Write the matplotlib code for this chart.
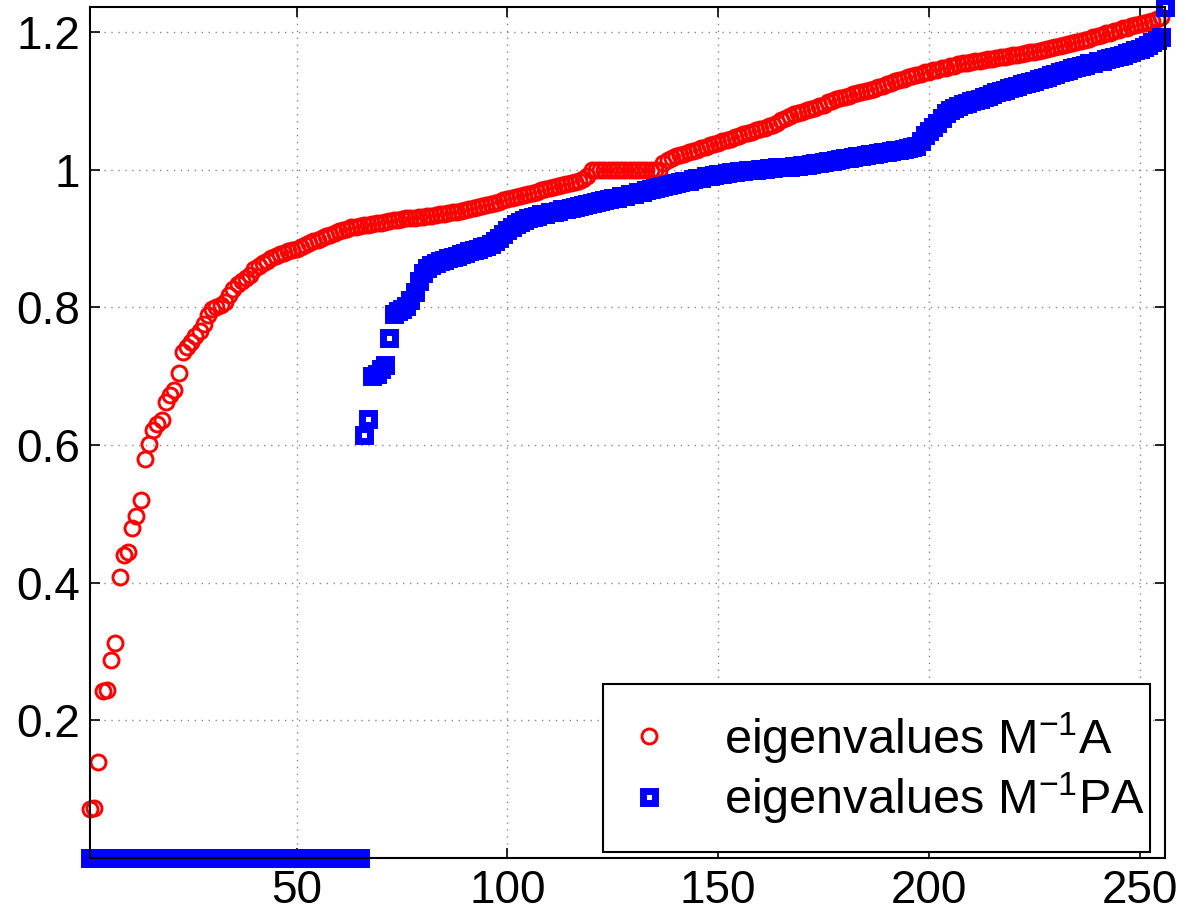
import numpy as np
import matplotlib
matplotlib.use('Agg')
import matplotlib.pyplot as plt
from matplotlib.patches import Rectangle

plt.rcParams['font.family'] = ['Liberation Sans', 'DejaVu Sans']
plt.rcParams['mathtext.default'] = 'regular'

# eigenvalues of M^-1 A, sorted
eig_MA = [
    0.071, 0.072, 0.140, 0.242, 0.244, 0.287, 0.312, 0.408, 0.440, 0.445,
    0.480, 0.497, 0.520, 0.580, 0.602, 0.622, 0.630, 0.636, 0.662, 0.672,
    0.680, 0.704, 0.735, 0.742, 0.750, 0.758, 0.766, 0.776, 0.788, 0.797,
    0.800, 0.803, 0.808, 0.818, 0.826, 0.833, 0.838, 0.842, 0.847, 0.855,
    0.860, 0.864, 0.867, 0.871, 0.874, 0.877, 0.879, 0.881, 0.883, 0.885,
    0.888, 0.890, 0.893, 0.896, 0.898, 0.900, 0.903, 0.905, 0.908, 0.910,
    0.912, 0.914, 0.916, 0.917, 0.918, 0.919, 0.920, 0.921, 0.922, 0.923,
    0.924, 0.925, 0.926, 0.927, 0.928, 0.929, 0.929, 0.930, 0.931, 0.931,
    0.932, 0.933, 0.934, 0.935, 0.936, 0.937, 0.938, 0.939, 0.940, 0.941,
    0.943, 0.944, 0.945, 0.947, 0.948, 0.950, 0.951, 0.953, 0.955, 0.957,
    0.958, 0.960, 0.961, 0.963, 0.964, 0.966, 0.968, 0.970, 0.972, 0.973,
    0.975, 0.976, 0.977, 0.979, 0.980, 0.982, 0.984, 0.986, 0.990, 1.000,
    1.000, 1.000, 1.000, 1.000, 1.000, 1.000, 1.000, 1.000, 1.000, 1.000,
    1.000, 1.000, 1.000, 1.000, 1.000, 1.000, 1.010, 1.014, 1.017, 1.019,
    1.021, 1.023, 1.025, 1.027, 1.029, 1.031, 1.033, 1.035, 1.037, 1.039,
    1.041, 1.043, 1.045, 1.047, 1.049, 1.051, 1.053, 1.055, 1.057, 1.059,
    1.061, 1.063, 1.065, 1.068, 1.072, 1.075, 1.078, 1.080, 1.082, 1.084,
    1.086, 1.088, 1.090, 1.092, 1.094, 1.098, 1.100, 1.102, 1.104, 1.106,
    1.107, 1.109, 1.111, 1.112, 1.114, 1.115, 1.117, 1.120, 1.122, 1.124,
    1.126, 1.128, 1.130, 1.132, 1.134, 1.136, 1.138, 1.139, 1.141, 1.142,
    1.144, 1.145, 1.147, 1.148, 1.150, 1.151, 1.153, 1.154, 1.155, 1.156,
    1.157, 1.158, 1.159, 1.160, 1.161, 1.162, 1.163, 1.164, 1.165, 1.166,
    1.167, 1.168, 1.169, 1.170, 1.171, 1.172, 1.173, 1.175, 1.176, 1.178,
    1.179, 1.181, 1.182, 1.184, 1.185, 1.187, 1.188, 1.190, 1.192, 1.194,
    1.196, 1.198, 1.199, 1.201, 1.203, 1.205, 1.206, 1.208, 1.210, 1.211,
    1.213, 1.214, 1.216, 1.218, 1.222, 1.236,
]

# eigenvalues of M^-1 PA, sorted (first 65 are zero)
eig_MPA = [
    0, 0, 0, 0, 0, 0, 0, 0, 0, 0,
    0, 0, 0, 0, 0, 0, 0, 0, 0, 0,
    0, 0, 0, 0, 0, 0, 0, 0, 0, 0,
    0, 0, 0, 0, 0, 0, 0, 0, 0, 0,
    0, 0, 0, 0, 0, 0, 0, 0, 0, 0,
    0, 0, 0, 0, 0, 0, 0, 0, 0, 0,
    0, 0, 0, 0, 0, 0.615, 0.638, 0.700, 0.703, 0.710,
    0.716, 0.755, 0.790, 0.794, 0.797, 0.802, 0.810, 0.822, 0.838, 0.850,
    0.857, 0.861, 0.864, 0.867, 0.869, 0.871, 0.873, 0.875, 0.877, 0.879,
    0.881, 0.883, 0.885, 0.887, 0.889, 0.892, 0.896, 0.901, 0.907, 0.912,
    0.917, 0.921, 0.924, 0.927, 0.929, 0.931, 0.933, 0.935, 0.936, 0.938,
    0.939, 0.940, 0.942, 0.943, 0.944, 0.946, 0.947, 0.948, 0.950, 0.951,
    0.953, 0.954, 0.955, 0.957, 0.958, 0.959, 0.961, 0.962, 0.964, 0.965,
    0.967, 0.968, 0.970, 0.971, 0.973, 0.974, 0.976, 0.977, 0.979, 0.980,
    0.982, 0.983, 0.984, 0.986, 0.987, 0.988, 0.990, 0.991, 0.992, 0.993,
    0.994, 0.995, 0.996, 0.997, 0.998, 0.998, 0.999, 1.000, 1.000, 1.001,
    1.001, 1.002, 1.002, 1.003, 1.003, 1.004, 1.004, 1.005, 1.005, 1.006,
    1.007, 1.008, 1.009, 1.010, 1.011, 1.012, 1.013, 1.014, 1.015, 1.016,
    1.017, 1.018, 1.019, 1.020, 1.021, 1.022, 1.023, 1.024, 1.025, 1.026,
    1.027, 1.028, 1.029, 1.030, 1.031, 1.032, 1.034, 1.042, 1.050, 1.056,
    1.062, 1.068, 1.075, 1.082, 1.086, 1.089, 1.092, 1.095, 1.097, 1.099,
    1.101, 1.103, 1.105, 1.107, 1.110, 1.112, 1.114, 1.116, 1.118, 1.120,
    1.122, 1.124, 1.125, 1.127, 1.129, 1.131, 1.133, 1.135, 1.137, 1.139,
    1.141, 1.143, 1.145, 1.147, 1.149, 1.151, 1.152, 1.154, 1.155, 1.157,
    1.158, 1.160, 1.162, 1.163, 1.165, 1.167, 1.169, 1.171, 1.173, 1.175,
    1.178, 1.181, 1.185, 1.188, 1.192, 1.236,
]

labels = [r'eigenvalues M$^{-1}$A', r'eigenvalues M$^{-1}$PA']
xticks = [50, 100, 150, 200, 250]
yticks = [0.2, 0.4, 0.6, 0.8, 1.0, 1.2]
yticklabels = ['0.2', '0.4', '0.6', '0.8', '1', '1.2']

idx_a = np.arange(1, len(eig_MA) + 1)
idx_b = np.arange(1, len(eig_MPA) + 1)

fig = plt.figure(figsize=(11.86, 9.14), dpi=100)
ax = fig.add_axes([0.0759, 0.0613, 0.9064, 0.931])

ax.plot(idx_a, eig_MA, 'o', color='red', markerfacecolor='none',
        markersize=10.8, markeredgewidth=2.1, label=labels[0], clip_on=False, zorder=3)
ax.plot(idx_b, eig_MPA, 's', color='blue', markerfacecolor='none',
        markersize=8.3, markeredgewidth=5.0, label=labels[1], clip_on=False, zorder=4)

ax.set_xlim(1, len(eig_MA))
ax.set_ylim(0, max(eig_MA))
ax.set_xticks(xticks)
ax.set_yticks(yticks)
ax.set_yticklabels(yticklabels)

ax.grid(True, color='#888888', linestyle=(0, (1, 4)), linewidth=1.0)
ax.set_axisbelow(True)
ax.tick_params(direction='in', length=7, width=1.2, top=True, right=True,
               labelsize=33)
ax.tick_params(axis='x', pad=8)
ax.tick_params(axis='y', pad=7)
for sp in ax.spines.values():
    sp.set_linewidth(1.5)
    sp.set_zorder(6)

# legend box drawn separately (MATLAB-style padding)
box = Rectangle((0.4772, 0.0071), 0.986 - 0.4772, 0.2045 - 0.0071,
                transform=ax.transAxes, facecolor='white', edgecolor='black',
                linewidth=1.5, zorder=5)
ax.add_patch(box)

leg = ax.legend(loc='center right', bbox_to_anchor=(0.9814, 0.1058),
                borderaxespad=0, borderpad=0, fontsize=35, frameon=False,
                handlelength=1.5, handletextpad=0.8, labelspacing=0.1)
leg.set_zorder(5.5)

fig.savefig('out.png', dpi=100)
